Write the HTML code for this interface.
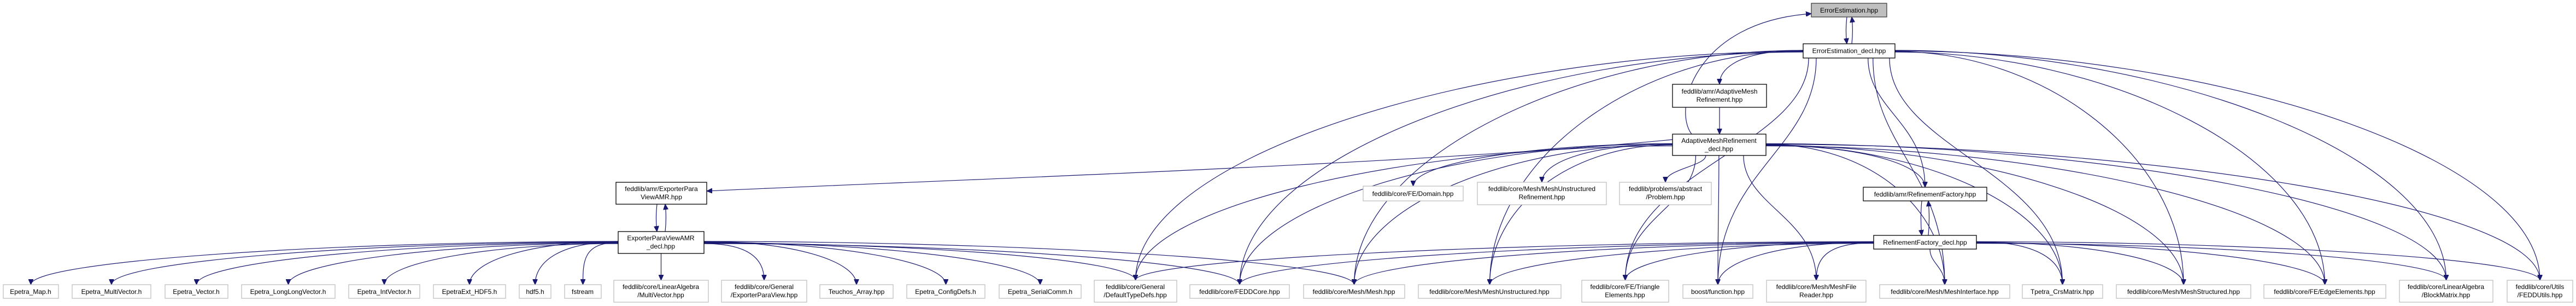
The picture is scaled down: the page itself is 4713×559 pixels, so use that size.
<!DOCTYPE html>
<html><head><meta charset="utf-8"><style>
html,body{margin:0;padding:0;background:#fff;}
svg{display:block;}
text{font-family:"Liberation Sans",Arial,sans-serif;font-size:12px;fill:#000;}
</style></head><body>
<svg id="g" width="4713" height="559" viewBox="0 0 4713 559" xmlns="http://www.w3.org/2000/svg">
<defs>
<marker id="ah" markerWidth="11" markerHeight="9" refX="10" refY="4.5" orient="auto" markerUnits="userSpaceOnUse">
<path d="M0,0 L10,4.5 L0,9 z" fill="#191970" stroke="#191970"/>
</marker>
</defs>
<g id="edges" fill="none" stroke="#191970" stroke-width="1.2"></g>
<g id="nodes" stroke-width="1.3">
<rect x="3314" y="6" width="138" height="25" fill="#bfbfbf" stroke="#404040"/><text x="3383" y="23" text-anchor="middle">ErrorEstimation.hpp</text>
<rect x="3299" y="80" width="168" height="26" fill="#fff" stroke="#000"/><text x="3383" y="97" text-anchor="middle">ErrorEstimation_decl.hpp</text>
<rect x="3060" y="154" width="172" height="42" fill="#fff" stroke="#000"/><text x="3146" y="171" text-anchor="middle">feddlib/amr/AdaptiveMesh</text><text x="3146" y="186" text-anchor="middle">Refinement.hpp</text>
<rect x="3060" y="245" width="171" height="39" fill="#fff" stroke="#000"/><text x="3145" y="261" text-anchor="middle">AdaptiveMeshRefinement</text><text x="3145" y="276" text-anchor="middle">_decl.hpp</text>
<rect x="1127" y="333" width="166" height="40" fill="#fff" stroke="#000"/><text x="1210" y="349" text-anchor="middle">feddlib/amr/ExporterPara</text><text x="1210" y="364" text-anchor="middle">ViewAMR.hpp</text>
<rect x="1131" y="423" width="157" height="40" fill="#fff" stroke="#000"/><text x="1209" y="439" text-anchor="middle">ExporterParaViewAMR</text><text x="1209" y="454" text-anchor="middle">_decl.hpp</text>
<rect x="2494" y="340" width="183" height="27" fill="#fff" stroke="#bfbfbf"/><text x="2585" y="358" text-anchor="middle">feddlib/core/FE/Domain.hpp</text>
<rect x="2703" y="333" width="236" height="41" fill="#fff" stroke="#bfbfbf"/><text x="2821" y="349" text-anchor="middle">feddlib/core/Mesh/MeshUnstructured</text><text x="2821" y="364" text-anchor="middle">Refinement.hpp</text>
<rect x="2963" y="333" width="168" height="41" fill="#fff" stroke="#bfbfbf"/><text x="3047" y="349" text-anchor="middle">feddlib/problems/abstract</text><text x="3047" y="364" text-anchor="middle">/Problem.hpp</text>
<rect x="3409" y="342" width="226" height="25" fill="#fff" stroke="#000"/><text x="3522" y="359" text-anchor="middle">feddlib/amr/RefinementFactory.hpp</text>
<rect x="3428" y="430" width="188" height="25" fill="#fff" stroke="#000"/><text x="3522" y="447" text-anchor="middle">RefinementFactory_decl.hpp</text>
</g>
<g id="bottom" stroke-width="1.3"></g>
<g id="btext">
<text x="56" y="537" text-anchor="middle">Epetra_Map.h</text>
<text x="204" y="537" text-anchor="middle">Epetra_MultiVector.h</text>
<text x="359" y="537" text-anchor="middle">Epetra_Vector.h</text>
<text x="527" y="537" text-anchor="middle">Epetra_LongLongVector.h</text>
<text x="703" y="537" text-anchor="middle">Epetra_IntVector.h</text>
<text x="859" y="537" text-anchor="middle">EpetraExt_HDF5.h</text>
<text x="979" y="537" text-anchor="middle">hdf5.h</text>
<text x="1066" y="537" text-anchor="middle">fstream</text>
<text x="1209" y="528" text-anchor="middle">feddlib/core/LinearAlgebra</text><text x="1209" y="543" text-anchor="middle">/MultiVector.hpp</text>
<text x="1398" y="528" text-anchor="middle">feddlib/core/General</text><text x="1398" y="543" text-anchor="middle">/ExporterParaView.hpp</text>
<text x="1567" y="537" text-anchor="middle">Teuchos_Array.hpp</text>
<text x="1730" y="537" text-anchor="middle">Epetra_ConfigDefs.h</text>
<text x="1903" y="537" text-anchor="middle">Epetra_SerialComm.h</text>
<text x="2077" y="528" text-anchor="middle">feddlib/core/General</text><text x="2077" y="543" text-anchor="middle">/DefaultTypeDefs.hpp</text>
<text x="2268" y="537" text-anchor="middle">feddlib/core/FEDDCore.hpp</text>
<text x="2477" y="537" text-anchor="middle">feddlib/core/Mesh/Mesh.hpp</text>
<text x="2725" y="537" text-anchor="middle">feddlib/core/Mesh/MeshUnstructured.hpp</text>
<text x="2973" y="528" text-anchor="middle">feddlib/core/FE/Triangle</text><text x="2973" y="543" text-anchor="middle">Elements.hpp</text>
<text x="3143" y="537" text-anchor="middle">boost/function.hpp</text>
<text x="3323" y="528" text-anchor="middle">feddlib/core/Mesh/MeshFile</text><text x="3323" y="543" text-anchor="middle">Reader.hpp</text>
<text x="3558" y="537" text-anchor="middle">feddlib/core/Mesh/MeshInterface.hpp</text>
<text x="3773" y="537" text-anchor="middle">Tpetra_CrsMatrix.hpp</text>
<text x="3995" y="537" text-anchor="middle">feddlib/core/Mesh/MeshStructured.hpp</text>
<text x="4253" y="537" text-anchor="middle">feddlib/core/FE/EdgeElements.hpp</text>
<text x="4475" y="528" text-anchor="middle">feddlib/core/LinearAlgebra</text><text x="4475" y="543" text-anchor="middle">/BlockMatrix.hpp</text>
<text x="4647" y="528" text-anchor="middle">feddlib/core/Utils</text><text x="4647" y="543" text-anchor="middle">/FEDDUtils.hpp</text>
</g>
</svg>
<script>
(function(){
var NS="http://www.w3.org/2000/svg";
var N={
EE:[3314,3452,6,31],EEd:[3299,3467,80,106],AMR:[3060,3232,154,196],AMRd:[3060,3231,245,284],
EPA:[1127,1293,333,373],EPAd:[1131,1288,423,463],Dom:[2494,2677,340,367],MUR:[2703,2939,333,374],
Prob:[2963,3131,333,374],RF:[3409,3635,342,367],RFd:[3428,3616,430,455]};
var B=[["Map",6,107,0],["MV",132,276,0],["Vec",302,417,0],["LLV",442,613,0],["IntV",638,768,0],["HDF",793,925,0],
["hdf5",950,1008,0],["fs",1033,1100,0],["MulV",1123,1296,1],["GEPV",1320,1476,1],["Teu",1500,1634,0],["Conf",1659,1802,0],
["Ser",1828,1978,0],["DTD",2002,2153,1],["Core",2177,2359,0],["Mesh",2385,2570,0],["MeshU",2595,2856,0],["Tri",2894,3053,1],
["boost",3079,3207,0],["MFR",3232,3414,1],["MIf",3439,3677,0],["Tp",3700,3847,0],["MS",3872,4118,0],["Edge",4142,4365,0],
["Blk",4390,4561,1],["Utl",4587,4707,1]];
var bg=document.getElementById("bottom");
B.forEach(function(b){N[b[0]]=b[3]?[b[1],b[2],512,552]:[b[1],b[2],520,545];
var r=document.createElementNS(NS,"rect");r.setAttribute("x",b[1]);r.setAttribute("y",N[b[0]][2]);
r.setAttribute("width",b[2]-b[1]);r.setAttribute("height",N[b[0]][3]-N[b[0]][2]);r.setAttribute("fill","#fff");r.setAttribute("stroke","#bfbfbf");bg.appendChild(r);});
var eg=document.getElementById("edges");
function P(d){var p=document.createElementNS(NS,"path");p.setAttribute("d",d);p.setAttribute("marker-end","url(#ah)");eg.appendChild(p);}
function E(s,t,k){var a=N[s],b=N[t];var tx=(b[0]+b[1])/2,ty=b[2];var cx=(a[0]+a[1])/2;var dx=tx-cx;
 var sx,sy;
 if(Math.abs(dx)<(a[1]-a[0])*0.5+ (ty-a[3])*0.9){sx=Math.max(a[0]+10,Math.min(a[1]-10,cx+dx*0.25));sy=a[3];
  P("M"+sx+","+sy+" C"+sx+","+(sy+(ty-sy)*0.4)+" "+tx+","+(ty-(ty-sy)*0.5)+" "+tx+","+ty);}
 else{sx=dx<0?a[0]:a[1];sy=(a[2]+a[3])/2+(k||0);
  P("M"+sx+","+sy+" C"+(sx+dx*0.45)+","+sy+" "+tx+","+(ty-(ty-sy)*0.55)+" "+tx+","+ty);}}
// vertical pairs
P("M3379,31 C3377,50 3377,62 3379,80");P("M3388,80 C3390,62 3390,48 3388,31");
P("M1202,373 C1200,392 1200,405 1202,423");P("M1217,423 C1219,405 1219,390 1217,373");
P("M3516,367 C3514,388 3514,410 3516,430");P("M3528,430 C3530,410 3530,388 3528,367");
P("M3146,196 L3146,245");
P("M3095,245 C3060,200 3100,40 3314,25");
P("M3060,255 C2600,300 1700,330 1293,349");
["AMR","RF","DTD","Core","Mesh","MeshU","Tri","boost","MIf","Tp","MS","Edge","Blk","Utl"].forEach(function(t,i){E("EEd",t,(i%4)-1);});
["Dom","MUR","Prob","RF","DTD","Core","Mesh","MeshU","Tri","boost","MFR","MIf","Tp","MS","Edge","Blk","Utl"].forEach(function(t,i){E("AMRd",t,(i%5)-2);});
["DTD","Core","Mesh","MeshU","Tri","boost","MFR","MIf","Tp","MS","Edge","Blk","Utl"].forEach(function(t,i){E("RFd",t,(i%4)-1);});
["Map","MV","Vec","LLV","IntV","HDF","hdf5","fs","MulV","GEPV","Teu","Conf","Ser","DTD","Core","Mesh"].forEach(function(t,i){E("EPAd",t,(i%5)-2);});
})();
</script>
</body></html>
